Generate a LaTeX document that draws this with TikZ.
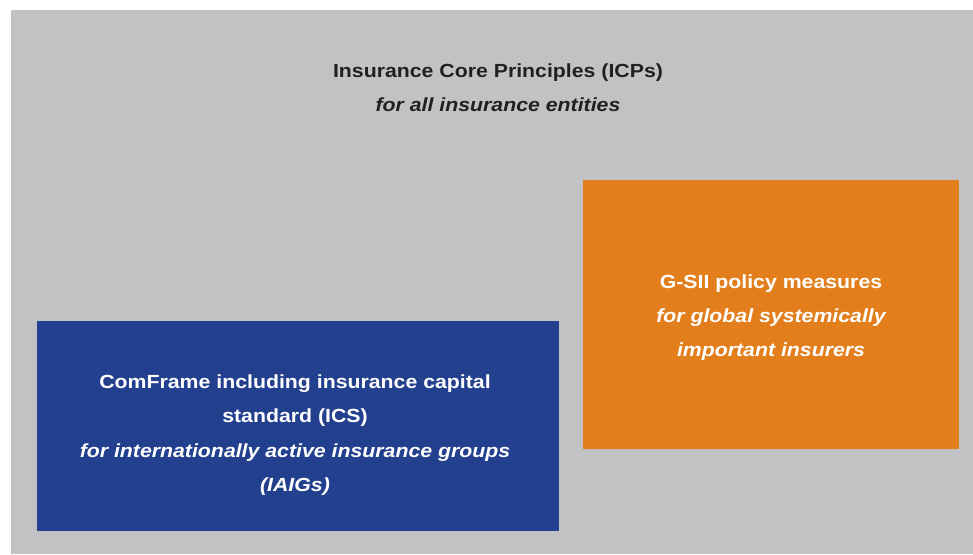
\documentclass[tikz,border=0pt]{standalone}
\usepackage{fontspec}
\setmainfont[FakeStretch=1.12]{Liberation Sans}
\definecolor{bggray}{HTML}{C2C2C4}
\definecolor{iaisblue}{HTML}{23408E}
\definecolor{iaisorange}{HTML}{E27F1C}
\definecolor{darktext}{HTML}{231F20}
\begin{document}
\begin{tikzpicture}[x=1pt,y=-1pt,
  panel/.style={fill=#1, draw=none, inner sep=0pt, outer sep=0pt},
  txt/.style={align=center, font=\fontsize{19}{34.2}\selectfont\bfseries, inner sep=0pt}]
\useasboundingbox (0,0) rectangle (973,554);
\fill[white] (0,0) rectangle (973,554);
\node[panel=bggray, minimum width=962pt, minimum height=544pt] (icp) at (492,282) {};
\node[panel=iaisorange, minimum width=376pt, minimum height=269pt] (gsii) at (771,314.5) {};
\node[panel=iaisblue, minimum width=522pt, minimum height=210pt] (com) at (298,426) {};
\node[txt, text=darktext] (icpt) at (498,87.5) {Insurance Core Principles (ICPs)\\\itshape for all insurance entities};
\node[txt, text=white] (gsiit) at (771,317.5) {G-SII policy measures\\\itshape for global systemically\\\itshape important insurers};
\node[txt, text=white] (comt) at (295,435) {ComFrame including insurance capital\\standard (ICS)\\\itshape for internationally active insurance groups\\\itshape (IAIGs)};
\end{tikzpicture}
\end{document}
